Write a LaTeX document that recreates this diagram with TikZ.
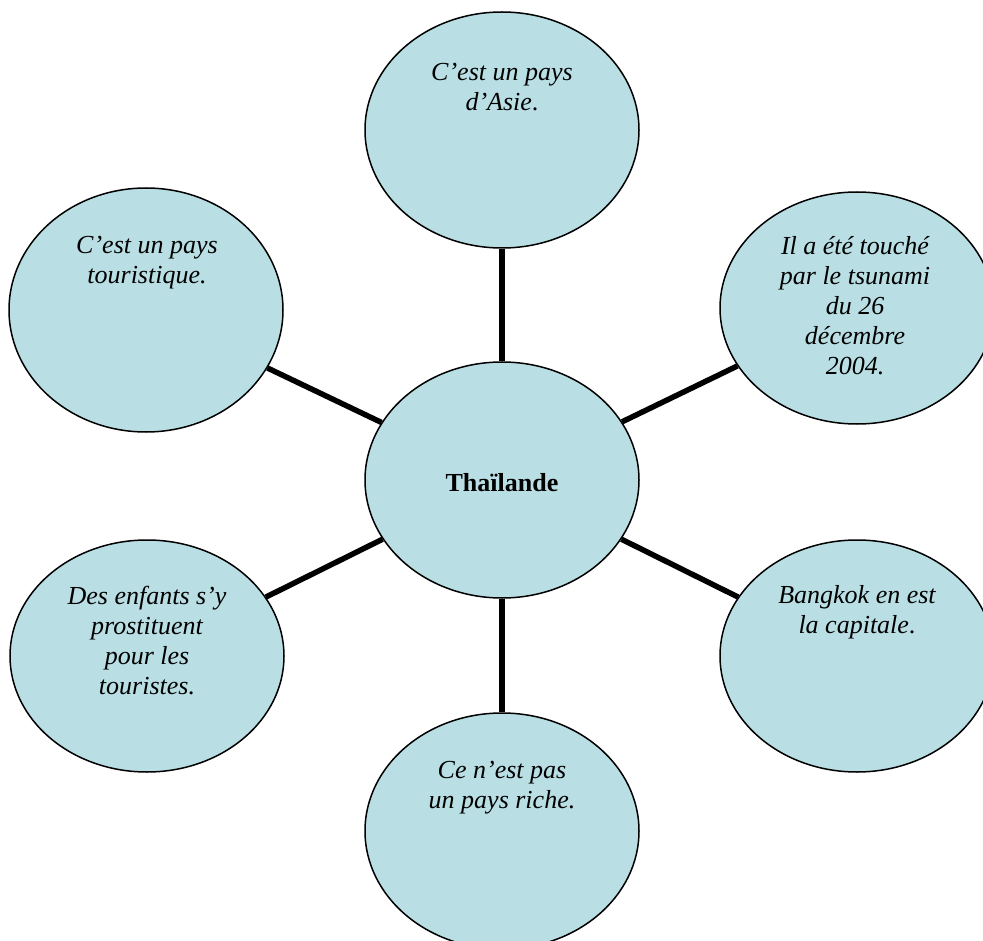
\documentclass[tikz,border=0pt]{standalone}
\usepackage{fontspec}
\setmainfont{Liberation Serif}
\usetikzlibrary{shapes.geometric}
\definecolor{bubble}{RGB}{185,223,228}
\tikzset{
  bubblenode/.style={ellipse, draw=black, line width=1.5pt, fill=bubble,
    minimum width=274pt, minimum height=236pt, inner sep=0pt},
  conn/.style={line width=5.5pt, draw=black},
  btext/.style={anchor=north, align=center, inner sep=0pt,
    font=\fontsize{26}{30}\selectfont\itshape}
}
\begin{document}
\begin{tikzpicture}[x=1pt,y=-1pt]
\useasboundingbox (0,0) rectangle (983,941);
\node[bubblenode] (top) at (502,130) {};
\node[bubblenode, minimum height=244pt] (tl) at (146,310) {};
\node[bubblenode, minimum height=232pt] (tr) at (857,308) {};
\node[bubblenode] (c) at (502,480) {};
\node[bubblenode, minimum height=232pt] (bl) at (147,656) {};
\node[bubblenode, minimum height=232pt] (br) at (857,656) {};
\node[bubblenode] (b) at (502,831) {};
\foreach \n in {top,tl,tr,bl,br,b} {
  \draw[conn] (c) -- (\n);
}
\node[btext] (ttop) at (502,63) {C’est un pays\\d’Asie\textup{.}};
\node[btext] (ttl) at (147,236) {C’est un pays\\touristique.};
\node[btext] (ttr) at (855,236) {Il a été touché\\par le tsunami\\du 26\\décembre\\2004.};
\node[font=\fontsize{26}{30}\selectfont\bfseries, inner sep=0pt] (tc) at (502,483) {Thaïlande};
\node[btext] (tbl) at (147,586) {Des enfants s’y\\prostituent\\pour les\\touristes.};
\node[btext] (tbr) at (857,585) {Bangkok en est\\la capitale\textup{.}};
\node[btext] (tb) at (502,761) {Ce n’est pas\\un pays riche.};
\end{tikzpicture}
\end{document}
